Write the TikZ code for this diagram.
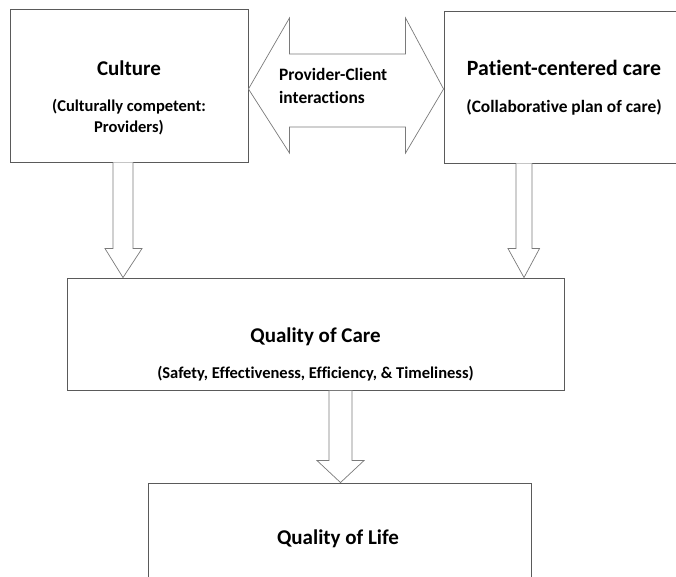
\documentclass[tikz,border=0pt]{standalone}
\usepackage{fontspec}
\setmainfont{Carlito}[Ligatures=NoCommon]
\usetikzlibrary{calc}
\definecolor{boxline}{HTML}{5A5A5A}
\definecolor{arrline}{HTML}{7A7A7A}
\tikzset{
  box/.style={draw=boxline, line width=0.9pt, fill=white, inner sep=0pt},
  blk/.style={draw=arrline, line width=0.7pt, fill=white, line join=miter},
  title/.style={font=\bfseries\fontsize{21}{25}\selectfont, inner sep=0pt},
  sub/.style={font=\bfseries\fontsize{16.5}{21}\selectfont, inner sep=0pt, align=center},
  bigsub/.style={sub, font=\bfseries\fontsize{17.4}{23}\selectfont},
}
\begin{document}
\begin{tikzpicture}[x=1pt,y=-1pt]
\useasboundingbox (0,0) rectangle (676,576);
\clip (0,0) rectangle (676,576);
% boxes
\node[box, minimum width=238pt, minimum height=153pt] (cult) at (129,85.5) {};
\node[box, minimum width=280pt, minimum height=152pt] (pcc) at (584,87) {};
\node[box, minimum width=497pt, minimum height=112pt] (qoc) at (315.5,334) {};
\node[box, minimum width=383pt, minimum height=140pt] (qol) at (339.5,553) {};
% texts
\node[title] (cultT) at (129,68) {Culture};
\node[sub] (cultS) at (129,117.5) {(Culturally competent:\\Providers)};
\node[title, font=\bfseries\fontsize{21.8}{25}\selectfont] (pccT) at (564,68) {Patient-centered care};
\node[bigsub] (pccS) at (564,107) {(Collaborative plan of care)};
\node[title] (qocT) at (315.5,337) {Quality of Care};
\node[sub] (qocS) at (315.5,374) {(Safety, Effectiveness, Efficiency, \& Timeliness)};
\node[title] (qolT) at (338,539) {Quality of Life};
% double arrow
\coordinate (l) at (cult.east |- 0,89);
\coordinate (r) at (pcc.west |- 0,89);
\draw[blk] (l) -- ($(l)+(41,-71)$) -- ($(l)+(41,-35)$) -- ($(r)+(-38,-35)$)
  -- ($(r)+(-38,-71)$) -- (r) -- ($(r)+(-38,64)$) -- ($(r)+(-38,38)$)
  -- ($(l)+(41,38)$) -- ($(l)+(41,64)$) -- cycle;
\node[bigsub, align=left, anchor=west] (pcT) at (279,85.5) {Provider-Client\\interactions};
% down arrows
\coordinate (s1) at (cult.south -| 123,0);
\coordinate (t1) at (qoc.north -| 123,0);
\draw[blk] ($(s1)+(-10,0)$) -- ($(t1)+(-10,-29)$) -- ($(t1)+(-18,-29)$) -- (t1)
  -- ($(t1)+(19,-29)$) -- ($(t1)+(10,-29)$) -- ($(s1)+(10,0)$);
\coordinate (s2) at (pcc.south -| 524,0);
\coordinate (t2) at (qoc.north -| 524,0);
\draw[blk] ($(s2)+(-8,0)$) -- ($(t2)+(-8,-29)$) -- ($(t2)+(-16,-29)$) -- (t2)
  -- ($(t2)+(15.5,-29)$) -- ($(t2)+(8,-29)$) -- ($(s2)+(8,0)$);
\coordinate (s3) at (qoc.south -| 340.5,0);
\coordinate (t3) at (qol.north -| 340.5,0);
\draw[blk] ($(s3)+(-11.5,0)$) -- ($(t3)+(-11.5,-22)$) -- ($(t3)+(-23.5,-22)$) -- (t3)
  -- ($(t3)+(23.5,-22)$) -- ($(t3)+(11.5,-22)$) -- ($(s3)+(11.5,0)$) -- cycle;
\end{tikzpicture}
\end{document}
